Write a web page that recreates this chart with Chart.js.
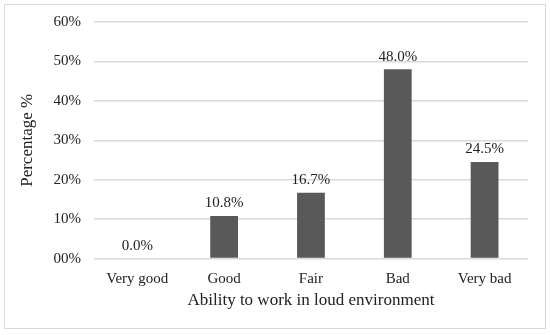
<!DOCTYPE html>
<html>
<head>
<meta charset="utf-8">
<script src="https://cdn.jsdelivr.net/npm/chart.js@4"></script>
<style>
  html, body { margin: 0; padding: 0; background: #fff; }
  #frame {
    position: absolute; left: 4px; top: 4px;
    width: 540px; height: 323px;
    border: 1px solid #d9d9d9;
    overflow: hidden;
  }
  #chart { display: block; margin-top: -5px; }
</style>
</head>
<body>
<div id="frame"><canvas id="chart" width="540" height="328"></canvas></div>
<script>
// Data
const categories = ['Very good', 'Good', 'Fair', 'Bad', 'Very bad'];
const percentages = [0.0, 10.8, 16.7, 48.0, 24.5];
const yTicks = [0, 10, 20, 30, 40, 50, 60];

const serif = '"Liberation Serif", "DejaVu Serif", serif';
const barColor = '#595959';
const gridColor = '#d9d9d9';

// value labels above each bar
const valueLabels = {
  id: 'valueLabels',
  afterDatasetsDraw(chart) {
    const ctx = chart.ctx;
    const meta = chart.getDatasetMeta(0);
    ctx.save();
    ctx.font = '15px ' + serif;
    ctx.fillStyle = '#222';
    ctx.textAlign = 'center';
    ctx.textBaseline = 'bottom';
    meta.data.forEach((bar, i) => {
      ctx.fillText(percentages[i].toFixed(1) + '%', bar.x, bar.y - 5);
    });
    ctx.restore();
  }
};

const ctx = document.getElementById('chart').getContext('2d');
const chart = new Chart(ctx, {
  type: 'bar',
  data: {
    labels: categories,
    datasets: [{
      data: percentages,
      backgroundColor: barColor,
      barPercentage: 0.32,
      categoryPercentage: 1.0
    }]
  },
  options: {
    responsive: false,
    animation: false,
    layout: { padding: { left: 8, right: 17, top: 3, bottom: 13 } },
    plugins: {
      legend: { display: false },
      tooltip: { enabled: false }
    },
    scales: {
      x: {
        grid: { display: false },
        border: { display: false },
        ticks: { color: '#222', font: { family: serif, size: 15 }, padding: 3 },
        title: {
          display: true,
          text: 'Ability to work in loud environment',
          color: '#222',
          font: { family: serif, size: 17 },
          padding: { top: 0 }
        }
      },
      y: {
        min: 0,
        max: 60,
        afterBuildTicks(axis) {
          axis.ticks = yTicks.map(v => ({ value: v }));
        },
        grid: { color: gridColor, lineWidth: 1.5, drawTicks: false },
        border: { display: false },
        ticks: {
          color: '#222',
          font: { family: serif, size: 15 },
          padding: 13,
          callback: v => (v === 0 ? '00' : v) + '%'
        },
        title: {
          display: true,
          text: 'Percentage %',
          color: '#222',
          font: { family: serif, size: 17 },
          padding: { bottom: 3 }
        }
      }
    }
  },
  plugins: [valueLabels]
});
</script>
</body>
</html>
